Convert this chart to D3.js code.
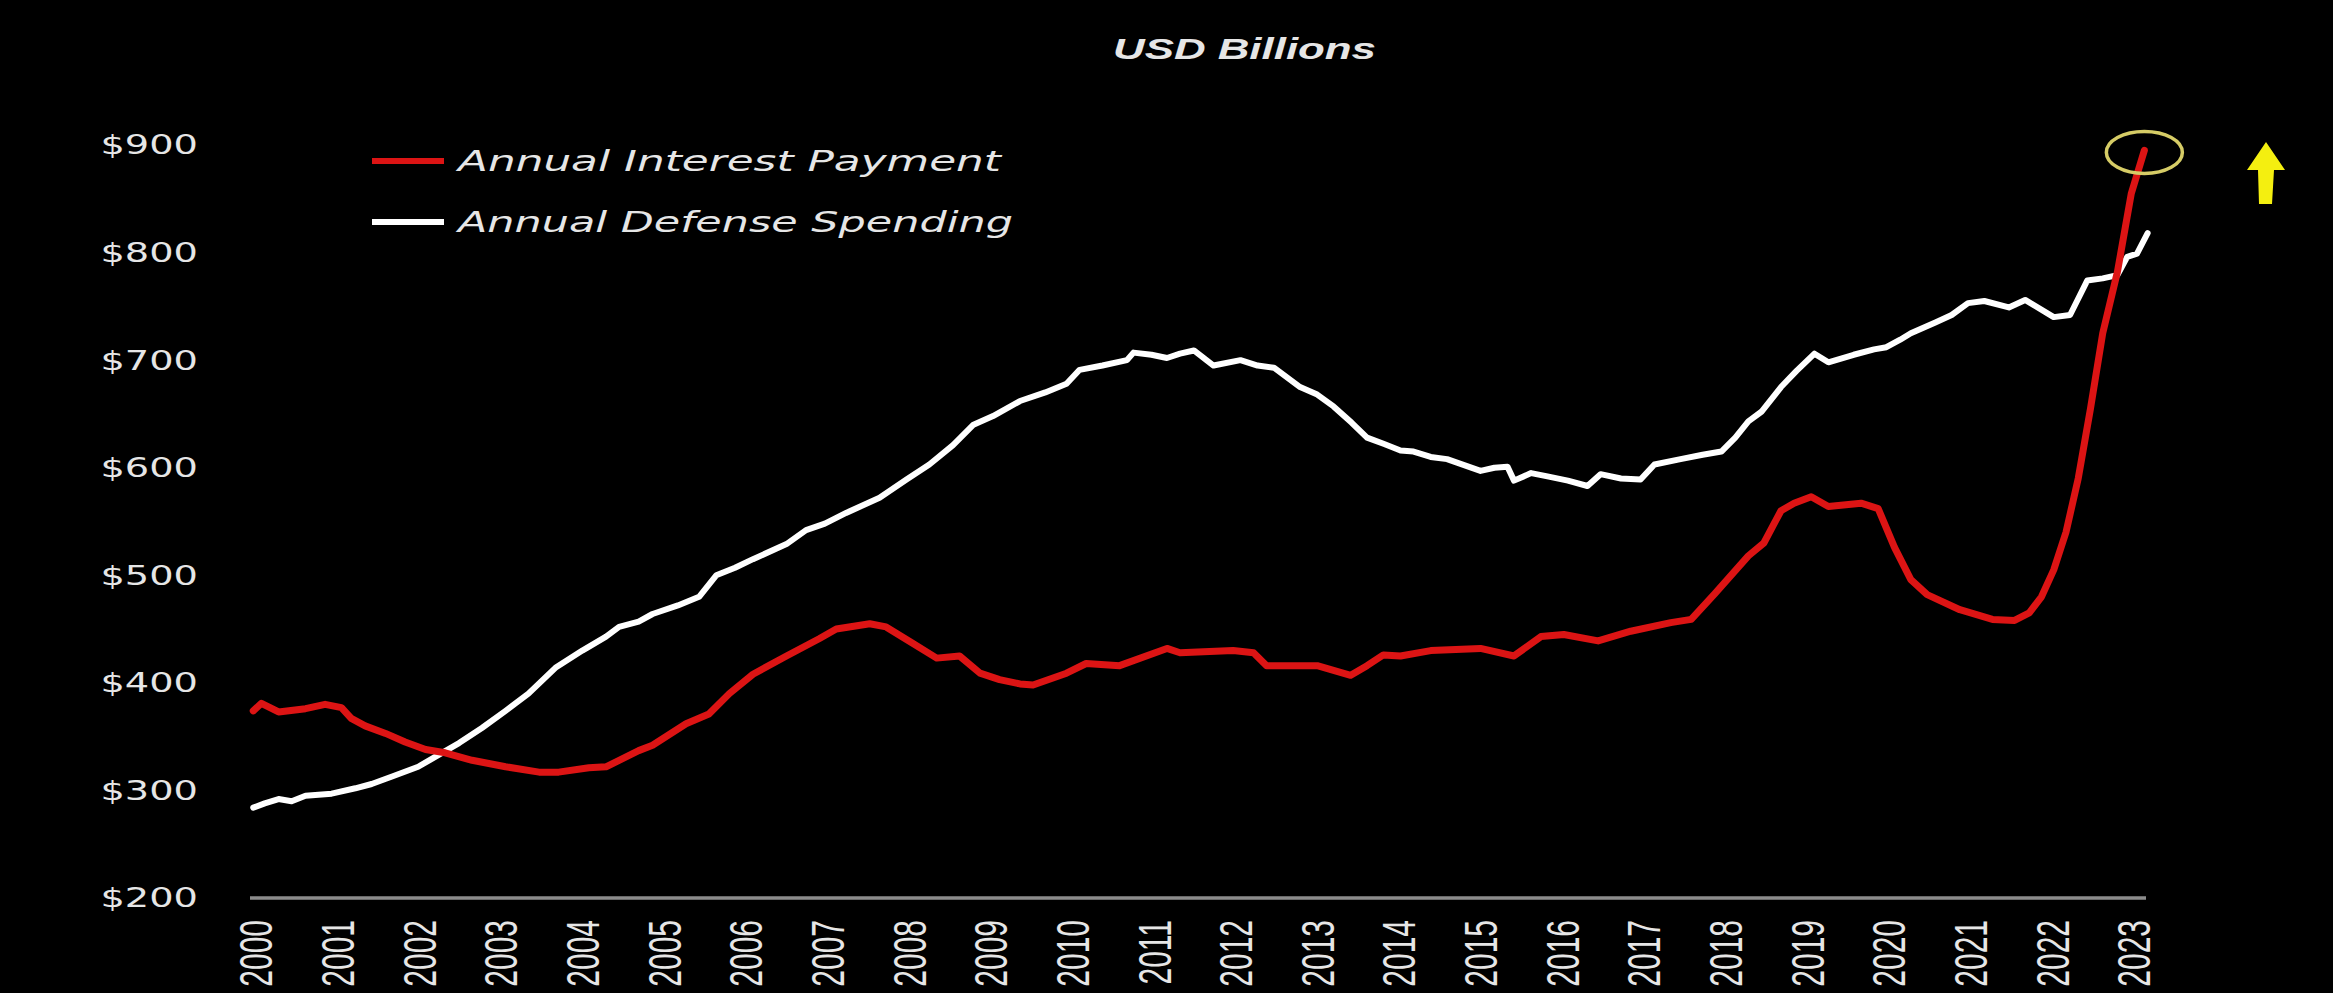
<!DOCTYPE html>
<html>
<head>
<meta charset="utf-8">
<script src="https://cdn.jsdelivr.net/npm/d3@7"></script>
<style>
  html, body { margin: 0; padding: 0; background: #000; }
  svg { display: block; }
</style>
</head>
<body>
<svg id="chart" width="2333" height="993"></svg>
<script>
// Annual defense spending (USD billions), by fractional year
const defenseYears = [
  2000.00, 2000.14, 2000.31, 2000.47, 2000.64, 2000.96, 2001.25, 2001.45, 2001.70, 2002.02,
  2002.27, 2002.52, 2002.80, 2003.09, 2003.37, 2003.70, 2004.03, 2004.32, 2004.48, 2004.72,
  2004.89, 2005.20, 2005.46, 2005.67, 2005.90, 2006.12, 2006.53, 2006.77, 2007.00, 2007.26,
  2007.67, 2008.00, 2008.28, 2008.57, 2008.82, 2009.06, 2009.39, 2009.70, 2009.96, 2010.12,
  2010.40, 2010.70, 2010.78, 2011.00, 2011.19, 2011.35, 2011.52, 2011.76, 2012.09, 2012.30,
  2012.50, 2012.82, 2013.03, 2013.23, 2013.45, 2013.64, 2013.85, 2014.05, 2014.21, 2014.42,
  2014.62, 2015.03, 2015.20, 2015.36, 2015.44, 2015.65, 2015.85, 2016.10, 2016.34, 2016.50,
  2016.75, 2016.99, 2017.16, 2017.48, 2017.75, 2017.98, 2018.15, 2018.31, 2018.47, 2018.71,
  2018.90, 2019.12, 2019.29, 2019.60, 2019.85, 2020.00, 2020.17, 2020.30, 2020.60, 2020.80,
  2021.00, 2021.20, 2021.50, 2021.70, 2022.05, 2022.25, 2022.46, 2022.65, 2022.83, 2022.95,
  2023.07, 2023.20
];
const defenseValues = [
  284, 288, 292, 290, 295, 297, 302, 306, 313, 322,
  333, 344, 358, 374, 390, 414, 430, 443, 452, 457,
  464, 472, 480, 500, 507, 515, 529, 542, 548, 558,
  572, 589, 603, 621, 640, 648, 662, 670, 678, 691,
  695, 700, 707, 705, 702, 706, 709, 695, 700, 695,
  693, 675, 668, 657, 642, 628, 622, 616, 615, 610,
  608, 597, 600, 601, 588, 595, 592, 588, 583, 594,
  590, 589, 603, 608, 612, 615, 628, 643, 652, 675,
  690, 706, 698, 705, 710, 712, 719, 725, 735, 742,
  753, 755, 749, 756, 740, 742, 774, 776, 779, 796,
  799, 818
];

// Annual interest payment (USD billions), by fractional year
const interestYears = [
  2000.00, 2000.10, 2000.31, 2000.64, 2000.88, 2001.08, 2001.20, 2001.37, 2001.62, 2001.86,
  2002.11, 2002.35, 2002.68, 2003.09, 2003.50, 2003.74, 2004.11, 2004.32, 2004.48, 2004.72,
  2004.89, 2005.30, 2005.58, 2005.83, 2006.12, 2006.53, 2006.93, 2007.14, 2007.55, 2007.75,
  2008.07, 2008.37, 2008.65, 2008.90, 2009.14, 2009.39, 2009.55, 2009.96, 2010.20, 2010.61,
  2011.19, 2011.35, 2012.00, 2012.25, 2012.41, 2013.03, 2013.44, 2013.64, 2013.84, 2014.05,
  2014.42, 2015.03, 2015.44, 2015.77, 2016.05, 2016.47, 2016.87, 2017.36, 2017.61, 2017.90,
  2018.31, 2018.50, 2018.71, 2018.87, 2019.08, 2019.29, 2019.69, 2019.90, 2020.10, 2020.30,
  2020.50, 2020.90, 2021.30, 2021.57, 2021.75, 2021.90, 2022.05, 2022.20, 2022.35, 2022.50,
  2022.65, 2022.83, 2023.00, 2023.16
];
const interestValues = [
  374, 381, 373, 376, 380, 377, 367, 360, 353, 345,
  338, 335, 328, 322, 317, 317, 321, 322, 328, 337,
  342, 362, 371, 390, 408, 425, 441, 450, 455, 452,
  437, 423, 425, 409, 403, 399, 398, 409, 418, 416,
  432, 428, 430, 428, 416, 416, 407, 416, 426, 425,
  430, 432, 425, 443, 445, 439, 448, 456, 459, 483,
  518, 530, 560, 567, 573, 564, 567, 562, 526, 496,
  482, 468, 459, 458, 465, 480, 505, 540, 590, 655,
  725, 782, 855, 895
];

// Axis ticks
const yTicks = [200, 300, 400, 500, 600, 700, 800, 900];
const xTicks = d3.range(2000, 2024);

const seriesNames = ["Annual Interest Payment", "Annual Defense Spending"];
const titleText = "USD Billions";

const RED = "#dc1414";
const WHITE = "#ffffff";
const LABEL = "#e6e6e6";
const STRETCH = 1.5;   // horizontal widening of glyphs

const svg = d3.select("#chart");
svg.append("rect").attr("width", 2333).attr("height", 993).attr("fill", "#000");

const x = d3.scaleLinear().domain([1999.96, 2023.18]).range([250, 2146]);
const y = d3.scaleLinear().domain([200, 900]).range([898, 145]);

// Title
svg.append("text")
  .attr("x", 1113).attr("y", 59)
  .attr("textLength", 263).attr("lengthAdjust", "spacingAndGlyphs")
  .attr("fill", LABEL)
  .style("font-family", "'Liberation Sans', Arial, sans-serif")
  .style("font-weight", "bold").style("font-style", "italic")
  .style("font-size", "30px")
  .text(titleText);

// Y axis labels
svg.append("g").selectAll("text").data(yTicks).join("text")
  .attr("transform", d => `translate(198,${y(d)}) scale(1.42,1)`)
  .attr("text-anchor", "end").attr("dominant-baseline", "central")
  .attr("fill", LABEL)
  .style("font-family", "'DejaVu Sans', sans-serif")
  .style("font-size", "27px")
  .text(d => "$" + d);

// X axis baseline
svg.append("line")
  .attr("x1", x.range()[0]).attr("x2", x.range()[1])
  .attr("y1", y(200)).attr("y2", y(200))
  .attr("stroke", "#8c8c8c").attr("stroke-width", 3.5);

// X axis labels (rotated)
svg.append("g").selectAll("text").data(xTicks).join("text")
  .attr("transform", d => `translate(${x(d) + 3},920) scale(${STRETCH + 0.05},1) rotate(-90)`)
  .attr("text-anchor", "end").attr("dominant-baseline", "central")
  .attr("fill", LABEL)
  .style("font-family", "'Liberation Sans', Arial, sans-serif")
  .style("font-size", "30px")
  .text(d => d);

// Series lines
const line = d3.line().x(d => x(d[0])).y(d => y(d[1])).curve(d3.curveLinear);
const defense = d3.zip(defenseYears, defenseValues);
const interest = d3.zip(interestYears, interestValues);

svg.append("path").datum(defense)
  .attr("d", line).attr("fill", "none")
  .attr("stroke", WHITE).attr("stroke-width", 6)
  .attr("stroke-linejoin", "round").attr("stroke-linecap", "round");

svg.append("path").datum(interest)
  .attr("d", line).attr("fill", "none")
  .attr("stroke", RED).attr("stroke-width", 7)
  .attr("stroke-linejoin", "round").attr("stroke-linecap", "round");

// Legend
const legend = svg.append("g");
const legendRows = [
  { name: seriesNames[0], color: RED, y: 161, len: 543 },
  { name: seriesNames[1], color: WHITE, y: 222, len: 555 }
];
legendRows.forEach(r => {
  legend.append("line")
    .attr("x1", 372).attr("x2", 444).attr("y1", r.y).attr("y2", r.y)
    .attr("stroke", r.color).attr("stroke-width", 6);
  legend.append("text")
    .attr("x", 458).attr("y", r.y).attr("dominant-baseline", "central")
    .attr("textLength", r.len).attr("lengthAdjust", "spacingAndGlyphs")
    .attr("fill", LABEL)
    .style("font-family", "'DejaVu Sans', sans-serif")
    .style("font-style", "italic")
    .style("font-size", "29px")
    .text(r.name);
});

// Highlight ring around the latest interest value
const last = interest[interest.length - 1];
svg.append("ellipse")
  .attr("cx", x(last[0])).attr("cy", y(last[1]) + 2)
  .attr("rx", 38).attr("ry", 21)
  .attr("fill", "none").attr("stroke", "#d6cc66").attr("stroke-width", 3.5);

// Upward arrow
const ax = 2266, atop = 142, abase = 170, abottom = 204;
svg.append("path")
  .attr("d", `M${ax},${atop} L${ax + 19},${abase} L${ax + 8},${abase} L${ax + 6},${abottom} L${ax - 7},${abottom} L${ax - 8},${abase} L${ax - 19},${abase} Z`)
  .attr("fill", "#f4ef10");
</script>
</body>
</html>
